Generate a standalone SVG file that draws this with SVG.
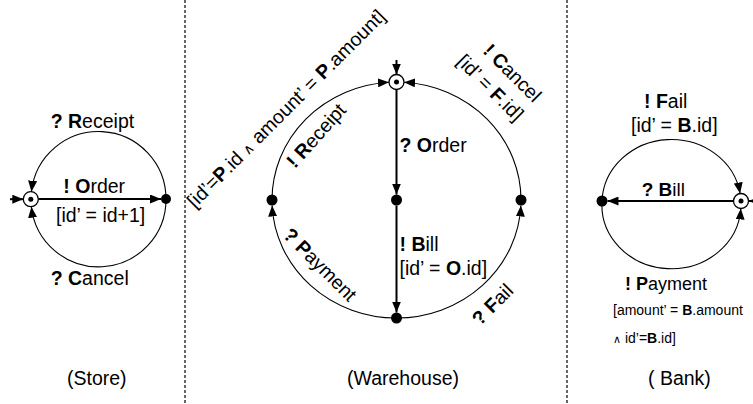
<svg xmlns="http://www.w3.org/2000/svg" width="753" height="404" viewBox="0 0 753 404">
<defs>
<marker id="ah" viewBox="0 0 11 9" refX="11" refY="4.5" markerWidth="11" markerHeight="9" markerUnits="userSpaceOnUse" orient="auto"><path d="M0,0 L11,4.5 L0,9 z" fill="#000"/></marker>
</defs>
<style>
text{font-family:"Liberation Sans",Arial,sans-serif;font-size:19.5px;fill:#000}
.b{font-weight:bold}
.f19{font-size:19px}
.f18{font-size:18px}
.f14{font-size:14px}
.f11{font-size:11px}
.arc{fill:none;stroke:#000;stroke-width:1.1;marker-end:url(#ah)}
.ln{fill:none;stroke:#000;stroke-width:2;marker-end:url(#ah)}
.node{fill:#000}
.init{fill:#fff;stroke:#000;stroke-width:1.3}
.div{stroke:#000;stroke-width:1.2;stroke-dasharray:3 2}
</style>
<g id="dividers">
<line class="div" x1="185" y1="0" x2="185" y2="404"/>
<line class="div" x1="567" y1="0" x2="567" y2="404"/>
</g>
<g id="connectors">
<path class="ln" d="M10,199.2 L23.3,199.2"/>
<path class="arc" d="M166,199 A67.5,67.5 0 0 0 31.4,191.7"/>
<path class="arc" d="M166,199 A67.5,67.5 0 0 1 31.4,206.7"/>
<path class="ln" d="M38.3,199 L161,199"/>
<path class="ln" d="M396.5,60 L396.5,74.5"/>
<path class="arc" d="M272,200 A124.5,118 0 0 1 389,82.2"/>
<path class="arc" d="M521,200 A124.5,118 0 0 0 404,82.2"/>
<path class="arc" d="M396.5,318 A124.5,118 0 0 1 272.1,205.5"/>
<path class="arc" d="M396.5,318 A124.5,118 0 0 0 520.9,205.5"/>
<path class="ln" d="M396.5,89.5 L396.5,194.5"/>
<path class="ln" d="M396.5,205.5 L396.5,312.5"/>
<path class="ln" d="M762,201 L748.5,201"/>
<path class="arc" d="M602,201 A69.5,64 0 0 1 740.1,193.5"/>
<path class="arc" d="M602,201 A69.5,64 0 0 0 740.8,208.5"/>
<path class="ln" d="M733.5,201 L607.5,201"/>
</g>
<g id="store-init"><circle class="init" cx="30.8" cy="199.2" r="7.5"/><circle class="node" cx="30.8" cy="199.2" r="2.5"/></g>
<g id="store-s1"><circle class="node" cx="166" cy="199" r="5"/></g>
<g id="wh-init"><circle class="init" cx="396.5" cy="82" r="7.5"/><circle class="node" cx="396.5" cy="82" r="2.5"/></g>
<g id="wh-left"><circle class="node" cx="272" cy="200" r="5.5"/></g>
<g id="wh-mid"><circle class="node" cx="396.5" cy="200" r="5.5"/></g>
<g id="wh-right"><circle class="node" cx="521" cy="200" r="5.5"/></g>
<g id="wh-bottom"><circle class="node" cx="396.5" cy="318" r="5.5"/></g>
<g id="bank-left"><circle class="node" cx="602" cy="201" r="5.5"/></g>
<g id="bank-init"><circle class="init" cx="741" cy="201" r="7.5"/><circle class="node" cx="741" cy="201" r="2.5"/></g>
<g id="labels">
<text x="50.7" y="128"><tspan class="b">? R</tspan>eceipt</text>
<text x="63.3" y="192.5"><tspan class="b">! O</tspan>rder</text>
<text x="56" y="222">[id’ = id+1]</text>
<text x="50.7" y="285"><tspan class="b">? C</tspan>ancel</text>
<text x="399.5" y="151.5"><tspan class="b">? O</tspan>rder</text>
<text x="399.5" y="250.5"><tspan class="b">! B</tspan>ill</text>
<text x="399.5" y="275">[id’ = <tspan class="b">O</tspan>.id]</text>
<text transform="translate(295,169) rotate(-48)"><tspan class="b">! R</tspan>eceipt</text>
<text transform="translate(195,209) rotate(-45)">[id’=<tspan class="b">P</tspan>.id <tspan class="f14">∧</tspan> amount’ = <tspan class="b">P</tspan>.amount]</text>
<text transform="translate(482,52) rotate(45)"><tspan class="b">! C</tspan>ancel<tspan x="-11" y="26">[id’ = </tspan><tspan class="b">F</tspan>.id]</text>
<text transform="translate(282,236) rotate(45)"><tspan class="b">? P</tspan>ayment</text>
<text transform="translate(480,326.5) rotate(-45)"><tspan class="b">? F</tspan>ail</text>
<text x="644" y="108.3"><tspan class="b">! F</tspan>ail</text>
<text x="631" y="131.5">[id’ = <tspan class="b">B</tspan>.id]</text>
<text class="f19" x="641.7" y="196"><tspan class="b">? B</tspan>ill</text>
<text class="f18" x="625" y="290"><tspan class="b">! P</tspan>ayment</text>
<text class="f14" x="613" y="315">[amount’ = <tspan class="b">B</tspan>.amount</text>
<text class="f14" x="613" y="342.7"><tspan class="f11">∧</tspan> id’=<tspan class="b">B</tspan>.id]</text>
<text x="67" y="385">(Store)</text>
<text x="347" y="385">(Warehouse)</text>
<text x="648" y="385">( Bank)</text>
</g>
</svg>
